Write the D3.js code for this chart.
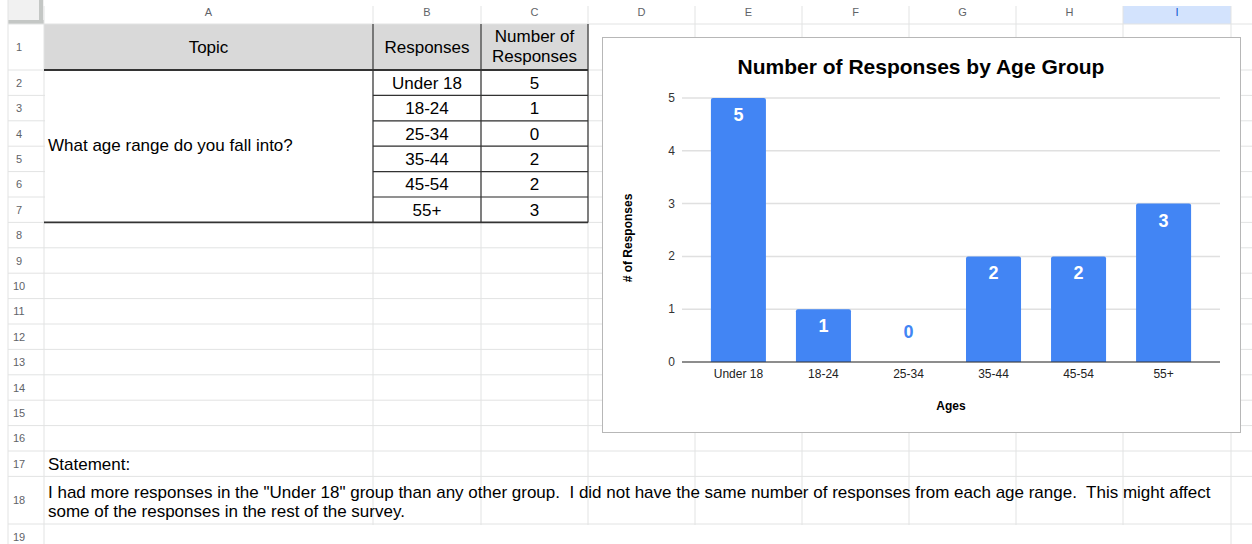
<!DOCTYPE html>
<html>
<head>
<meta charset="utf-8">
<script src="https://cdn.jsdelivr.net/npm/d3@7"></script>
<style>
  body { margin: 0; background: #fff; }
  svg { display: block; font-family: "Liberation Sans", Arial, sans-serif; }
  text { white-space: pre; }
</style>
</head>
<body>
<div id="sheet"></div>
<script>
// data
var ageGroups = ["Under 18", "18-24", "25-34", "35-44", "45-54", "55+"];
var responseCounts = [5, 1, 0, 2, 2, 3];
var yTicks = [0, 1, 2, 3, 4, 5];
var columnLetters = ["A", "B", "C", "D", "E", "F", "G", "H", "I", ""];
var rowNumbers = d3.range(1, 20);
var topicText = "What age range do you fall into?";
var headerTexts = ["Topic", "Responses", ["Number of", "Responses"]];
var chartTitle = "Number of Responses by Age Group";
var xTitle = "Ages";
var yTitle = "# of Responses";
var statementLabel = "Statement:";
var statementLines = [
  "I had more responses in the \"Under 18\" group than any other group.  I did not have the same number of responses from each age range.  This might affect",
  "some of the responses in the rest of the survey."
];

var width = 1252, height = 544;
var cellFont = 17;
var svg = d3.select("#sheet").append("svg").attr("width", width).attr("height", height);

// sheet layout
var colEdges = [44, 373, 481, 588, 695, 802, 909, 1016, 1123, 1231, 1340];
var rowEdges = [24, 70];
for (var i = 2; i <= 17; i++) rowEdges.push(70 + (i - 1) * 25.4);
rowEdges.push(524);
rowEdges.push(550);
var gridColor = "#e2e3e3";

// header fill for table row 1
svg.append("rect")
  .attr("x", colEdges[0]).attr("y", rowEdges[0])
  .attr("width", colEdges[3] - colEdges[0]).attr("height", rowEdges[1] - rowEdges[0])
  .attr("fill", "#d9d9d9");

// selected column header
svg.append("rect")
  .attr("x", colEdges[8]).attr("y", 6)
  .attr("width", colEdges[9] - colEdges[8]).attr("height", 18)
  .attr("fill", "#d3e3fd");

// corner block
svg.append("rect").attr("x", 8).attr("y", 0).attr("width", 36).attr("height", 24).attr("fill", "#f1f1f1");
svg.append("line").attr("x1", 41).attr("x2", 41).attr("y1", 0).attr("y2", 24).attr("stroke", "#c4c7c5").attr("stroke-width", 4);
svg.append("line").attr("x1", 8).attr("x2", 44).attr("y1", 22).attr("y2", 22).attr("stroke", "#c4c7c5").attr("stroke-width", 4);

// grid lines
var grid = svg.append("g");
grid.selectAll(".vline").data(colEdges).enter().append("line")
  .attr("x1", function(d) { return d; }).attr("x2", function(d) { return d; })
  .attr("y1", 6).attr("y2", height)
  .attr("stroke", gridColor);
grid.selectAll(".hline").data(rowEdges).enter().append("line")
  .attr("x1", 8).attr("x2", width)
  .attr("y1", function(d) { return d; }).attr("y2", function(d) { return d; })
  .attr("stroke", gridColor);
grid.append("line").attr("x1", 8).attr("x2", 8).attr("y1", 0).attr("y2", height).attr("stroke", gridColor);

// column letters
svg.selectAll(".colLetter").data(columnLetters).enter().append("text")
  .attr("x", function(d, i) { return (colEdges[i] + colEdges[i + 1]) / 2; })
  .attr("y", 16)
  .attr("text-anchor", "middle")
  .attr("font-size", 11)
  .attr("fill", function(d) { return d === "I" ? "#0b57d0" : "#5f6368"; })
  .text(function(d) { return d; });

// row numbers
svg.selectAll(".rowNum").data(rowNumbers).enter().append("text")
  .attr("x", 19)
  .attr("y", function(d, i) { return (rowEdges[i] + rowEdges[i + 1]) / 2 + 4; })
  .attr("text-anchor", "middle")
  .attr("font-size", 11)
  .attr("fill", "#5f6368")
  .text(function(d) { return d; });

// table: white body for merged A2:A7
svg.append("rect")
  .attr("x", colEdges[0] + 1).attr("y", rowEdges[1] + 1)
  .attr("width", colEdges[1] - colEdges[0] - 2).attr("height", rowEdges[7] - rowEdges[1] - 2)
  .attr("fill", "#fff");

var tbl = svg.append("g").attr("stroke", "#333").attr("stroke-width", 1.2);
// verticals
[colEdges[1], colEdges[2], colEdges[3]].forEach(function(x) {
  tbl.append("line").attr("x1", x).attr("x2", x).attr("y1", rowEdges[0]).attr("y2", rowEdges[7]);
});
// header bottom and table bottom
tbl.append("line").attr("x1", colEdges[0]).attr("x2", colEdges[3]).attr("y1", rowEdges[1]).attr("y2", rowEdges[1]).attr("stroke-width", 2);
tbl.append("line").attr("x1", colEdges[0]).attr("x2", colEdges[3]).attr("y1", rowEdges[7]).attr("y2", rowEdges[7]).attr("stroke-width", 1.6);
// inner rows in B:C
for (var r = 2; r < 7; r++) {
  tbl.append("line").attr("x1", colEdges[1]).attr("x2", colEdges[3]).attr("y1", rowEdges[r]).attr("y2", rowEdges[r]);
}

// header texts
svg.append("text").attr("x", (colEdges[0] + colEdges[1]) / 2).attr("y", 53)
  .attr("text-anchor", "middle").attr("font-size", cellFont).attr("fill", "#000").text(headerTexts[0]);
svg.append("text").attr("x", (colEdges[1] + colEdges[2]) / 2).attr("y", 53)
  .attr("text-anchor", "middle").attr("font-size", cellFont).attr("fill", "#000").text(headerTexts[1]);
svg.selectAll(".hdr2").data(headerTexts[2]).enter().append("text")
  .attr("x", (colEdges[2] + colEdges[3]) / 2)
  .attr("y", function(d, i) { return 42 + i * 20; })
  .attr("text-anchor", "middle").attr("font-size", cellFont).attr("fill", "#000")
  .text(function(d) { return d; });

// merged topic cell
svg.append("text").attr("x", 48).attr("y", 151)
  .attr("font-size", cellFont).attr("fill", "#000").text(topicText);

// table rows
var rows = svg.selectAll(".trow").data(ageGroups).enter().append("g");
rows.append("text")
  .attr("x", (colEdges[1] + colEdges[2]) / 2)
  .attr("y", function(d, i) { return (rowEdges[i + 1] + rowEdges[i + 2]) / 2 + 6; })
  .attr("text-anchor", "middle").attr("font-size", cellFont).attr("fill", "#000")
  .text(function(d) { return d; });
rows.append("text")
  .attr("x", (colEdges[2] + colEdges[3]) / 2)
  .attr("y", function(d, i) { return (rowEdges[i + 1] + rowEdges[i + 2]) / 2 + 6; })
  .attr("text-anchor", "middle").attr("font-size", cellFont).attr("fill", "#000")
  .text(function(d, i) { return responseCounts[i]; });

// statement rows
svg.append("text").attr("x", 48).attr("y", 470).attr("font-size", cellFont).attr("fill", "#000").text(statementLabel);
svg.selectAll(".stmt").data(statementLines).enter().append("text")
  .attr("x", 48)
  .attr("y", function(d, i) { return 498 + i * 19; })
  .attr("font-size", cellFont).attr("fill", "#000")
  .text(function(d) { return d; });
// row 18 text spills over, hide gridlines behind it
svg.insert("rect", "text")
  .attr("x", colEdges[0] + 1).attr("y", rowEdges[18] + 1)
  .attr("width", 1180).attr("height", rowEdges[19] - rowEdges[18] - 2)
  .attr("fill", "#fff");
svg.insert("rect", "text")
  .attr("x", colEdges[0] + 1).attr("y", rowEdges[17] + 1)
  .attr("width", colEdges[1] - colEdges[0] - 2).attr("height", rowEdges[18] - rowEdges[17] - 2)
  .attr("fill", "#fff");

// chart
var chart = svg.append("g");
chart.append("rect")
  .attr("x", 602.5).attr("y", 37.5).attr("width", 638).attr("height", 395)
  .attr("fill", "#fff").attr("stroke", "#b7b7b7");

chart.append("text").attr("x", 921).attr("y", 74)
  .attr("text-anchor", "middle").attr("font-size", 21).attr("font-weight", "bold").attr("fill", "#000")
  .text(chartTitle);

var x = d3.scaleBand().domain(ageGroups).range([682, 1220]).paddingInner(0.353).paddingOuter(0.34);
var y = d3.scaleLinear().domain([0, 5]).range([362, 98]);

chart.append("g").selectAll("line").data(yTicks).enter().append("line")
  .attr("x1", 682).attr("x2", 1220)
  .attr("y1", function(d) { return y(d); }).attr("y2", function(d) { return y(d); })
  .attr("stroke", "#e0e0e0").attr("stroke-width", 1.5);

chart.append("g").selectAll("text").data(yTicks).enter().append("text")
  .attr("x", 675).attr("y", function(d) { return y(d) + 4; })
  .attr("text-anchor", "end").attr("font-size", 12).attr("fill", "#333")
  .text(function(d) { return d; });

chart.append("g").selectAll("path").data(responseCounts).enter().append("path")
  .attr("fill", "#4285f4")
  .attr("d", function(d, i) {
    var x0 = x(ageGroups[i]), w = x.bandwidth(), y0 = y(d), y1 = y(0), r = 2;
    if (d === 0) return "";
    return "M" + x0 + "," + y1 + "V" + (y0 + r) + "Q" + x0 + "," + y0 + " " + (x0 + r) + "," + y0 +
      "H" + (x0 + w - r) + "Q" + (x0 + w) + "," + y0 + " " + (x0 + w) + "," + (y0 + r) + "V" + y1 + "Z";
  });

chart.append("g").selectAll("text").data(responseCounts).enter().append("text")
  .attr("x", function(d, i) { return x(ageGroups[i]) + x.bandwidth() / 2; })
  .attr("y", function(d) { return d === 0 ? y(0) - 24 : y(d) + 23; })
  .attr("text-anchor", "middle").attr("font-size", 18).attr("font-weight", "bold")
  .attr("fill", function(d) { return d === 0 ? "#4285f4" : "#fff"; })
  .text(function(d) { return d; });

chart.append("line").attr("x1", 682).attr("x2", 1220).attr("y1", y(0)).attr("y2", y(0))
  .attr("stroke", "#333").attr("stroke-width", 1.2);

chart.append("g").selectAll("text").data(ageGroups).enter().append("text")
  .attr("x", function(d) { return x(d) + x.bandwidth() / 2; })
  .attr("y", 378)
  .attr("text-anchor", "middle").attr("font-size", 12).attr("fill", "#222")
  .text(function(d) { return d; });

chart.append("text").attr("x", 951).attr("y", 410)
  .attr("text-anchor", "middle").attr("font-size", 12).attr("font-weight", "bold").attr("fill", "#000")
  .text(xTitle);

chart.append("text").attr("transform", "translate(632,238) rotate(-90)")
  .attr("text-anchor", "middle").attr("font-size", 12).attr("font-weight", "bold").attr("fill", "#000")
  .text(yTitle);
</script>
</body>
</html>
